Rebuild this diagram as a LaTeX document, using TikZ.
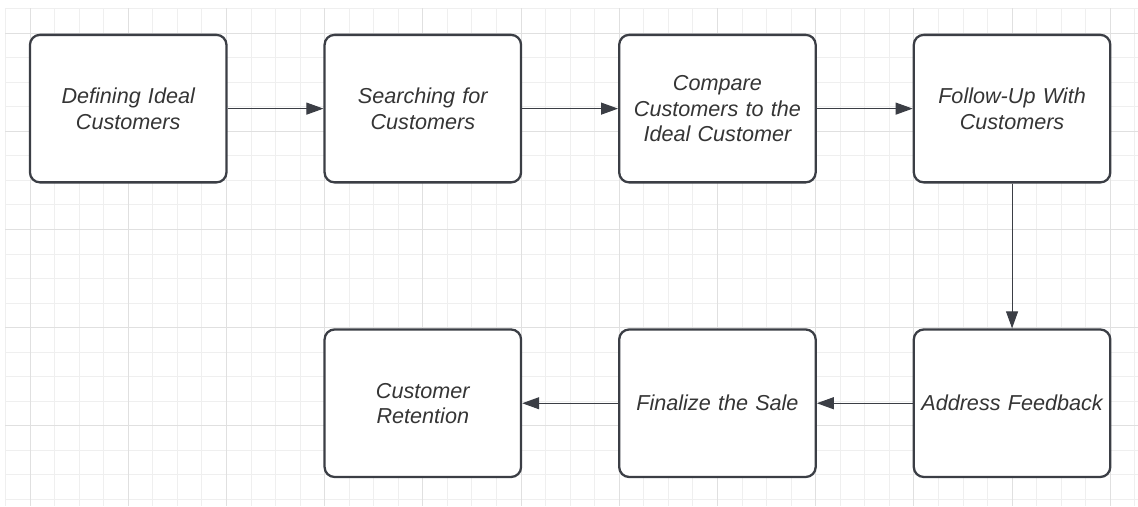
\documentclass[tikz,border=0pt]{standalone}
\usepackage{fontspec}
\setmainfont{Liberation Sans}
\usetikzlibrary{arrows.meta}
\definecolor{boxline}{HTML}{3B3E45}
\definecolor{boxtext}{HTML}{353535}
\definecolor{gridminor}{HTML}{EFEFEF}
\definecolor{gridmajor}{HTML}{E0E0E0}
\begin{document}
\begin{tikzpicture}[
    x=0.491cm, y=-0.491cm,
    PB/.style={draw=boxline,fill=white,line width=1.3pt,rounded corners=0.2cm,
      minimum width=3.93cm,minimum height=2.95cm,inner sep=0pt,
      text width=3.85cm,align=center,text=boxtext,
      font=\fontsize{12.3}{14.4}\selectfont\itshape},
    FL/.style={draw=boxline,line width=0.6pt,-{Triangle[length=0.34cm,width=0.24cm]}},
    GL/.style={draw=gridminor,line width=0.5pt},
    GM/.style={draw=gridmajor,line width=0.5pt}
    ]
    \useasboundingbox (-1.222,-1.344) rectangle (45.13,19.27);
    % grid paper
    \foreach \i in {-1,...,45} \draw [GL] (\i,-1) -- (\i,19.27);
    \foreach \j in {-1,...,19} \draw [GL] (-1,\j) -- (45.13,\j);
    \foreach \i in {0,4,...,44} \draw [GM] (\i,-1) -- (\i,19.27);
    \foreach \j in {0,4,...,16} \draw [GM] (-1,\j) -- (45.13,\j);
    % top row
    \node [PB] (define) at (4,3.08) {Defining Ideal\\Customers};
    \node [PB] (search) at (16,3.08) {Searching for\\Customers};
    \node [PB] (compare) at (28,3.08) {Compare\\Customers to the\\Ideal Customer};
    \node [PB] (followup) at (40,3.08) {Follow-Up With\\Customers};
    % bottom row
    \node [PB] (feedback) at (40,15.08) {Address Feedback};
    \node [PB] (finalize) at (28,15.08) {Finalize the Sale};
    \node [PB] (retain) at (16,15.08) {Customer\\Retention};
    \draw [FL] (define) -- (search);
    \draw [FL] (search) -- (compare);
    \draw [FL] (compare) -- (followup);
    \draw [FL] (followup) -- (feedback);
    \draw [FL] (feedback) -- (finalize);
    \draw [FL] (finalize) -- (retain);
\end{tikzpicture}
\end{document}
